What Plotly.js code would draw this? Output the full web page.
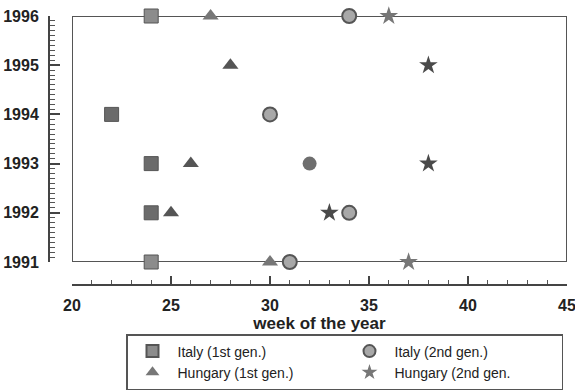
<!DOCTYPE html>
<html><head><meta charset="utf-8">
<script src="https://cdn.plot.ly/plotly-3.0.1.min.js"></script>
<style>html,body{margin:0;padding:0;background:#fff}#c{width:575px;height:392px}</style>
</head><body><div id="c"></div>
<script>
// Data: week of the year (x) vs year (y)
const italy1Week = [24, 22, 24, 24, 24];
const italy1Year = [1996, 1994, 1993, 1992, 1991];
const italy2Week = [34, 30, 32, 34, 31];
const italy2Year = [1996, 1994, 1993, 1992, 1991];
const italy2Solid = [false, false, true, false, false];
const hung1Week = [27, 28, 26, 25, 30];
const hung1Year = [1996, 1995, 1993, 1992, 1991];
const hung2Week = [36, 38, 38, 33, 37];
const hung2Year = [1996, 1995, 1993, 1992, 1991];
const seriesNames = ['Italy (1st gen.)', 'Italy (2nd gen.)', 'Hungary (1st gen.)', 'Hungary (2nd gen.'];
const xTicks = [20, 25, 30, 35, 40, 45];
const yTicks = [1991, 1992, 1993, 1994, 1995, 1996];

const onEdge = y => (y === 1996 || y === 1991);
const edgeCol = (ys, base, light) => ys.map(y => onEdge(y) ? light : base);

const traces = [
  {x: italy1Week, y: italy1Year, name: seriesNames[0], type: 'scatter', mode: 'markers', cliponaxis: false,
   marker: {symbol: 'square', size: 14, color: edgeCol(italy1Year, '#6b6b6b', '#8c8c8c'), line: {color: '#555', width: 1}}},
  {x: italy2Week, y: italy2Year, name: seriesNames[1], type: 'scatter', mode: 'markers', cliponaxis: false,
   marker: {symbol: 'circle', size: 14, color: italy2Solid.map(s => s ? '#6e6e6e' : '#a8a8a8'),
            line: {color: '#555', width: italy2Solid.map(s => s ? 0 : 2)}}},
  {x: hung1Week, y: hung1Year, name: seriesNames[2], type: 'scatter', mode: 'markers', cliponaxis: false,
   marker: {symbol: 'triangle-up', size: 14, color: edgeCol(hung1Year, '#555', '#777'), line: {width: 0}}},
  {x: hung2Week, y: hung2Year, name: seriesNames[3], type: 'scatter', mode: 'markers', cliponaxis: false,
   marker: {symbol: 'star', size: 14, color: edgeCol(hung2Year, '#4a4a4a', '#777'), line: {width: 0}}}
];

const W = 575, H = 392, mL = 49, mR = 8, mT = 16, mB = 107;
const pw = W - mL - mR, ph = H - mT - mB;
const px = v => (v - mL) / pw;
const py = v => (H - mB - v) / ph;

const FAM = 'Arial';
const tickFont = {family: FAM, size: 16, color: '#222', weight: 'bold'};

const layout = {
  width: W, height: H,
  margin: {l: mL, r: mR, t: mT, b: mB, autoexpand: false},
  paper_bgcolor: '#fff', plot_bgcolor: '#fff',
  showlegend: true,
  font: {family: FAM},
  xaxis: {
    domain: [px(72), 1], range: [20, 45], anchor: 'free', position: 0,
    tickvals: xTicks, ticktext: xTicks.map(String),
    ticks: 'inside', ticklen: 8, tickwidth: 2, tickcolor: '#444',
    minor: {dtick: 1, ticks: 'inside', ticklen: 4, tickwidth: 1, tickcolor: '#555', showgrid: false},
    showline: true, linecolor: '#444', linewidth: 2,
    showgrid: false, zeroline: false, automargin: false,
    tickfont: tickFont, ticklabelstandoff: 6, ticklabeloverflow: 'allow',
    title: {text: 'week of the year', font: {family: FAM, size: 17, color: '#222', weight: 'bold'}, standoff: 0}
  },
  yaxis: {
    domain: [py(262), 1], range: [1991, 1996], anchor: 'free', position: 0,
    tickvals: yTicks, ticktext: yTicks.map(String),
    ticks: 'inside', ticklen: 10, tickwidth: 2, tickcolor: '#444',
    minor: {dtick: 0.1, ticks: 'inside', ticklen: 5, tickwidth: 1, tickcolor: '#555', showgrid: false},
    showline: true, linecolor: '#444', linewidth: 2,
    showgrid: false, zeroline: false, automargin: false,
    tickfont: tickFont, ticklabelstandoff: 6
  },
  shapes: [
    {type: 'rect', xref: 'x', yref: 'y', x0: 20, x1: 45, y0: 1991, y1: 1996, line: {color: '#555', width: 2}, layer: 'below'},
    {type: 'rect', xref: 'paper', yref: 'paper', x0: px(131), x1: px(549), y0: py(387), y1: py(339),
     fillcolor: '#a9a9a9', line: {width: 0}, layer: 'below'}
  ],
  legend: {
    orientation: 'h', x: px(126), xanchor: 'left', y: py(334), yanchor: 'top',
    bgcolor: '#fff', bordercolor: '#555', borderwidth: 1.5,
    font: {family: FAM, size: 14, color: '#222'},
    entrywidth: 162, entrywidthmode: 'pixels', traceorder: 'normal', tracegroupgap: 0,
    itemsizing: 'constant', itemwidth: 40
  }
};

Plotly.newPlot('c', traces, layout, {displayModeBar: false, staticPlot: true});
</script>
</body></html>
